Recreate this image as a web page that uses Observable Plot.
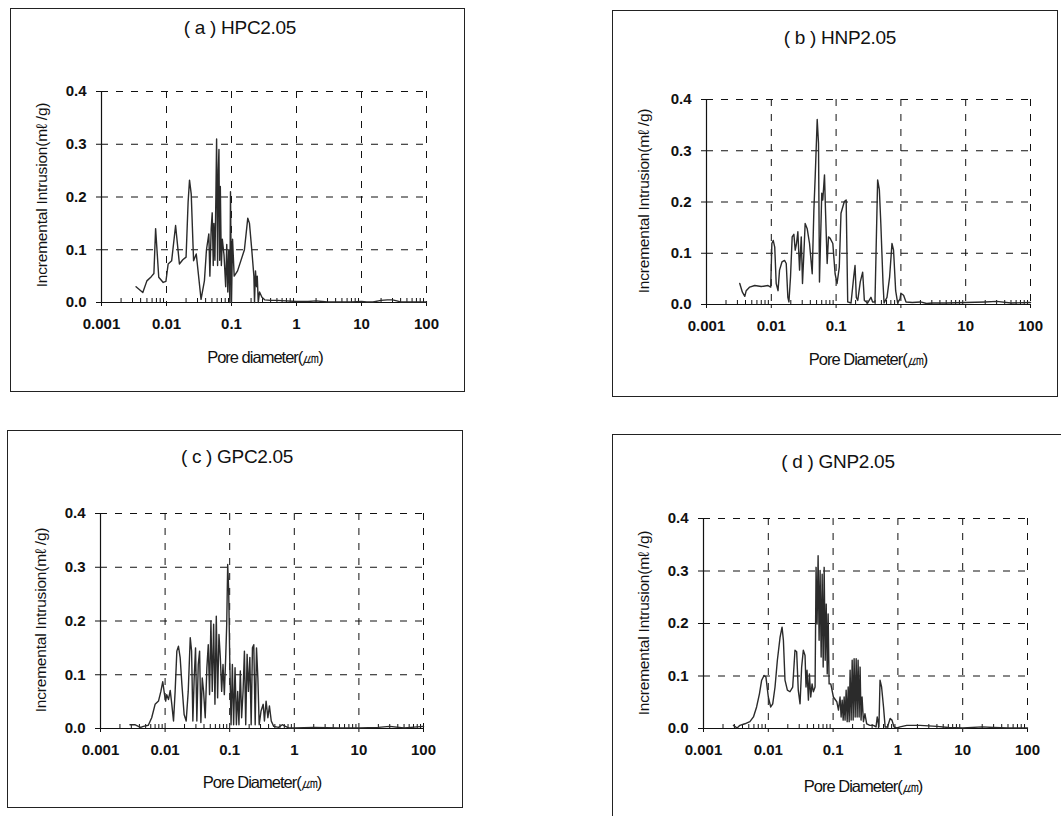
<!DOCTYPE html>
<html><head><meta charset="utf-8">
<script src="https://cdn.jsdelivr.net/npm/d3@7"></script>
<script src="https://cdn.jsdelivr.net/npm/@observablehq/plot@0.6"></script>
<style>
body{margin:0;background:#fff;}
#page{position:relative;width:1061px;height:816px;overflow:hidden;background:#fff;font-family:"Liberation Sans",Arial,sans-serif;color:#111;}
.box{position:absolute;border:1.3px solid #222;box-sizing:border-box;}
.title{position:absolute;transform:translate(-50%,-50%);font-size:19px;letter-spacing:-0.3px;white-space:nowrap;}
.xlab{position:absolute;transform:translate(-50%,-50%);font-size:16.5px;letter-spacing:-1px;white-space:nowrap;}
.ylab{position:absolute;transform:translate(-50%,-50%) rotate(-90deg);font-size:15.5px;letter-spacing:-0.2px;white-space:nowrap;}
.plot{position:absolute;}
</style></head><body><div id="page"></div>
<script>
// ---- data: [pore diameter (µm), incremental intrusion (mL/g)] ----
const hpc = [[0.0034,0.030],[0.00432,0.019],[0.00499,0.041],[0.00583,0.049],[0.0064,0.055],[0.0068,0.140],[0.0076,0.048],[0.0089,0.038],[0.0098,0.040],[0.0106,0.073],[0.012,0.079],[0.0138,0.146],[0.0158,0.073],[0.0178,0.081],[0.020,0.086],[0.0215,0.190],[0.0226,0.232],[0.024,0.206],[0.0261,0.079],[0.0287,0.092],[0.034,0.006],[0.0383,0.041],[0.0412,0.10],[0.0448,0.13],[0.0465,0.05],[0.0487,0.14],[0.0505,0.17],[0.0524,0.07],[0.0536,0.15],[0.0556,0.08],[0.0575,0.20],[0.059,0.31],[0.0611,0.07],[0.0627,0.25],[0.0641,0.29],[0.0658,0.08],[0.0673,0.22],[0.0698,0.07],[0.0722,0.12],[0.0767,0.09],[0.0814,0.03],[0.0845,0.11],[0.0877,0.02],[0.0908,0.10],[0.0942,0.0],[0.0965,0.21],[0.1,0.0],[0.1038,0.12],[0.110,0.05],[0.124,0.06],[0.158,0.10],[0.178,0.16],[0.189,0.15],[0.205,0.10],[0.221,0.05],[0.226,0.0],[0.234,0.06],[0.243,0.03],[0.249,0.05],[0.258,0.0],[0.270,0.02],[0.294,0.01],[0.324,0.005],[0.4,0.004],[0.5,0.004],[0.7,0.003],[1,0.002],[1.5,0.002],[2,0.003],[2.5,0.002],[3,0.001],[5,0.001],[7,0.001],[10,0.002],[12,0.001],[15,0.001],[20,0.004],[25,0.005],[30,0.005],[35,0.003],[40,0.001],[60,0.001],[100,0.001]];

const hnp = [[0.00326,0.041],[0.00358,0.024],[0.0039,0.016],[0.0041,0.027],[0.00464,0.034],[0.00555,0.037],[0.0070,0.035],[0.0089,0.037],[0.0098,0.034],[0.0102,0.119],[0.0107,0.125],[0.0113,0.112],[0.0119,0.041],[0.0127,0.027],[0.0134,0.067],[0.0146,0.083],[0.016,0.086],[0.017,0.080],[0.018,0.014],[0.0187,0.005],[0.0198,0.054],[0.021,0.132],[0.0223,0.137],[0.0234,0.106],[0.0245,0.119],[0.0257,0.142],[0.0273,0.067],[0.029,0.132],[0.0303,0.041],[0.0318,0.099],[0.0333,0.158],[0.0358,0.148],[0.0389,0.119],[0.0428,0.060],[0.0454,0.184],[0.0476,0.250],[0.0511,0.361],[0.0535,0.315],[0.0554,0.044],[0.0574,0.119],[0.0601,0.217],[0.0623,0.204],[0.0662,0.253],[0.0686,0.184],[0.0728,0.080],[0.0763,0.132],[0.081,0.129],[0.089,0.119],[0.0965,0.060],[0.1035,0.041],[0.112,0.073],[0.119,0.178],[0.134,0.201],[0.143,0.204],[0.151,0.005],[0.17,0.003],[0.187,0.054],[0.196,0.076],[0.205,0.014],[0.216,0.008],[0.236,0.044],[0.257,0.063],[0.273,0.008],[0.307,0.003],[0.345,0.014],[0.366,0.005],[0.398,0.005],[0.4375,0.243],[0.465,0.224],[0.49,0.158],[0.53,0.041],[0.55,0.003],[0.61,0.014],[0.67,0.054],[0.728,0.119],[0.77,0.106],[0.83,0.027],[0.89,0.003],[0.97,0.011],[1.0,0.022],[1.1,0.018],[1.2,0.005],[1.5,0.004],[2,0.005],[2.5,0.002],[3,0.003],[5,0.003],[10,0.004],[20,0.005],[30,0.006],[50,0.003],[100,0.004]];

const gpc = [[0.00286,0.007],[0.0034,0.007],[0.00385,0.004],[0.0042,0.002],[0.0046,0.004],[0.0055,0.006],[0.0062,0.020],[0.007,0.045],[0.0079,0.051],[0.0086,0.069],[0.0092,0.087],[0.0098,0.063],[0.0102,0.051],[0.0106,0.063],[0.0113,0.054],[0.0120,0.071],[0.0127,0.045],[0.0135,0.014],[0.0143,0.069],[0.0152,0.144],[0.0161,0.153],[0.0171,0.132],[0.0182,0.082],[0.0197,0.026],[0.0212,0.014],[0.0228,0.069],[0.0245,0.169],[0.0257,0.144],[0.0269,0.014],[0.0282,0.094],[0.0296,0.150],[0.031,0.014],[0.0326,0.119],[0.0342,0.144],[0.0358,0.011],[0.0376,0.094],[0.0394,0.069],[0.0418,0.020],[0.0443,0.113],[0.0466,0.156],[0.0488,0.063],[0.0512,0.200],[0.0537,0.069],[0.0564,0.194],[0.0591,0.045],[0.062,0.209],[0.065,0.057],[0.0682,0.175],[0.0716,0.132],[0.0751,0.069],[0.0788,0.119],[0.0826,0.063],[0.0867,0.132],[0.0899,0.194],[0.0931,0.305],[0.0965,0.256],[0.1,0.132],[0.105,0.007],[0.110,0.119],[0.115,0.007],[0.121,0.113],[0.127,0.007],[0.133,0.069],[0.139,0.007],[0.146,0.107],[0.153,0.020],[0.161,0.069],[0.169,0.144],[0.177,0.007],[0.186,0.138],[0.195,0.069],[0.205,0.132],[0.215,0.007],[0.225,0.150],[0.236,0.156],[0.248,0.007],[0.26,0.150],[0.273,0.094],[0.286,0.007],[0.305,0.032],[0.33,0.045],[0.345,0.014],[0.366,0.051],[0.39,0.020],[0.412,0.042],[0.44,0.014],[0.48,0.004],[0.57,0.002],[0.65,0.007],[0.73,0.004],[0.82,0.001],[1,0.001],[2,0.002],[5,0.001],[10,0.001],[20,0.002],[30,0.004],[50,0.001],[80,0.003],[100,0.004]];

const gnp = [[0.0029,0.006],[0.0033,0.001],[0.00365,0.006],[0.00435,0.009],[0.0052,0.013],[0.0059,0.022],[0.0066,0.041],[0.0073,0.066],[0.0079,0.092],[0.0086,0.101],[0.0092,0.098],[0.01,0.060],[0.0109,0.041],[0.0117,0.047],[0.0127,0.079],[0.0138,0.130],[0.0152,0.174],[0.0163,0.193],[0.0171,0.168],[0.0181,0.092],[0.0197,0.073],[0.0216,0.070],[0.0238,0.079],[0.0258,0.149],[0.0274,0.146],[0.029,0.073],[0.0309,0.047],[0.0327,0.117],[0.0347,0.149],[0.0369,0.139],[0.0382,0.079],[0.0396,0.111],[0.0416,0.054],[0.0431,0.104],[0.0452,0.060],[0.0474,0.085],[0.0496,0.070],[0.0527,0.079],[0.0546,0.307],[0.0566,0.199],[0.0587,0.329],[0.0608,0.168],[0.063,0.301],[0.0654,0.136],[0.0678,0.294],[0.0703,0.117],[0.0728,0.307],[0.0755,0.130],[0.0783,0.237],[0.0812,0.104],[0.0838,0.218],[0.0868,0.085],[0.0921,0.085],[0.101,0.060],[0.114,0.051],[0.121,0.035],[0.128,0.060],[0.133,0.022],[0.138,0.054],[0.143,0.016],[0.148,0.060],[0.153,0.016],[0.159,0.073],[0.165,0.013],[0.171,0.079],[0.177,0.013],[0.183,0.111],[0.19,0.016],[0.197,0.130],[0.204,0.016],[0.211,0.133],[0.219,0.022],[0.227,0.133],[0.235,0.022],[0.243,0.130],[0.252,0.022],[0.261,0.117],[0.27,0.016],[0.28,0.060],[0.294,0.013],[0.31,0.028],[0.33,0.009],[0.37,0.006],[0.42,0.006],[0.46,0.003],[0.48,0.022],[0.51,0.003],[0.53,0.092],[0.56,0.079],[0.6,0.041],[0.635,0.003],[0.69,0.003],[0.76,0.019],[0.81,0.016],[0.87,0.003],[0.96,0.001],[1.08,0.003],[1.37,0.006],[2.2,0.006],[4,0.004],[6,0.002],[10,0.001],[20,0.003],[30,0.002],[50,0.001],[100,0.001]];

// ---- axis ticks / labels ----
const xTicks = [0.001, 0.01, 0.1, 1, 10, 100];
const xTickLabels = ["0.001", "0.01", "0.1", "1", "10", "100"];
const yTicks = [0, 0.1, 0.2, 0.3, 0.4];
const yTickLabels = ["0.0", "0.1", "0.2", "0.3", "0.4"];
const minorTicks = [];
for (const d of xTicks.slice(0, -1)) for (let k = 2; k <= 9; k++) minorTicks.push(+(d * k).toPrecision(3));

const titles = ["( a ) HPC2.05", "( b ) HNP2.05", "( c ) GPC2.05", "( d ) GNP2.05"];
const xTitles = ["Pore diameter(\u339B)", "Pore Diameter(\u339B)", "Pore Diameter(\u339B)", "Pore Diameter(\u339B)"];
const yTitle = "Incremental Intrusion(m\u2113 /g)";
const series = [hpc, hnp, gpc, gnp];

// ---- layout (page pixels) ----
const layout = [
  {box:[10,8,455,384],  frame:[101,91,426,302],  title:[240,28],  xlab:[265,358], ylab:[42,195]},
  {box:[612,10,446,387],frame:[706,99,1030,304], title:[840,38],  xlab:[868,360], ylab:[644,201]},
  {box:[7,430,456,378], frame:[100,513,423,728], title:[237,457], xlab:[262,783], ylab:[41,620]},
  {box:[612,434,460,400],frame:[703,518,1027,728],title:[838,462], xlab:[863,787], ylab:[644,623]}
];

const page = document.getElementById("page");
function addDiv(cls, text, x, y) {
  const d = document.createElement("div");
  d.className = cls; d.textContent = text;
  d.style.left = x + "px"; d.style.top = y + "px";
  page.appendChild(d);
}

layout.forEach((L, i) => {
  const box = document.createElement("div");
  box.className = "box";
  box.style.left = L.box[0] + "px"; box.style.top = L.box[1] + "px";
  box.style.width = L.box[2] + "px"; box.style.height = L.box[3] + "px";
  page.appendChild(box);

  const [l, t, r, b] = L.frame;
  const ML = 60, MR = 20, MT = 10, MB = 40;
  const svg = Plot.plot({
    width: r - l + ML + MR, height: b - t + MT + MB,
    marginLeft: ML, marginRight: MR, marginTop: MT, marginBottom: MB,
    style: {fontFamily: '"Liberation Sans", Arial, sans-serif', fontSize: "15px", color: "#111", background: "transparent", overflow: "visible"},
    x: {type: "log", domain: [0.001, 100]},
    y: {domain: [0, 0.4]},
    marks: [
      Plot.ruleX(xTicks.slice(1), {stroke: "#111", strokeWidth: 1, strokeDasharray: "7,8"}),
      Plot.ruleY(yTicks.slice(1), {stroke: "#111", strokeWidth: 1, strokeDasharray: "7,8"}),
      Plot.axisX({ticks: xTicks, tickFormat: d => xTickLabels[xTicks.indexOf(d)], tickSize: 4, tickPadding: 12, fontWeight: "bold", label: null}),
      Plot.axisX({ticks: minorTicks, tickFormat: () => "", tickSize: -4, label: null}),
      Plot.axisY({ticks: yTicks, tickFormat: d => yTickLabels[yTicks.indexOf(d)], tickSize: 5, tickPadding: 10, fontWeight: "bold", label: null}),
      Plot.ruleX([0.001], {stroke: "#111", strokeWidth: 1.2}),
      Plot.ruleY([0], {stroke: "#111", strokeWidth: 1.2}),
      Plot.line(series[i], {x: d => d[0], y: d => d[1], stroke: "#2b2b2b", strokeWidth: 1.4})
    ]
  });
  svg.classList.add("plot");
  svg.style.left = (l - ML) + "px";
  svg.style.top = (t - MT) + "px";
  page.appendChild(svg);

  addDiv("title", titles[i], L.title[0], L.title[1]);
  addDiv("xlab", xTitles[i], L.xlab[0], L.xlab[1]);
  addDiv("ylab", yTitle, L.ylab[0], L.ylab[1]);
});
</script></body></html>
